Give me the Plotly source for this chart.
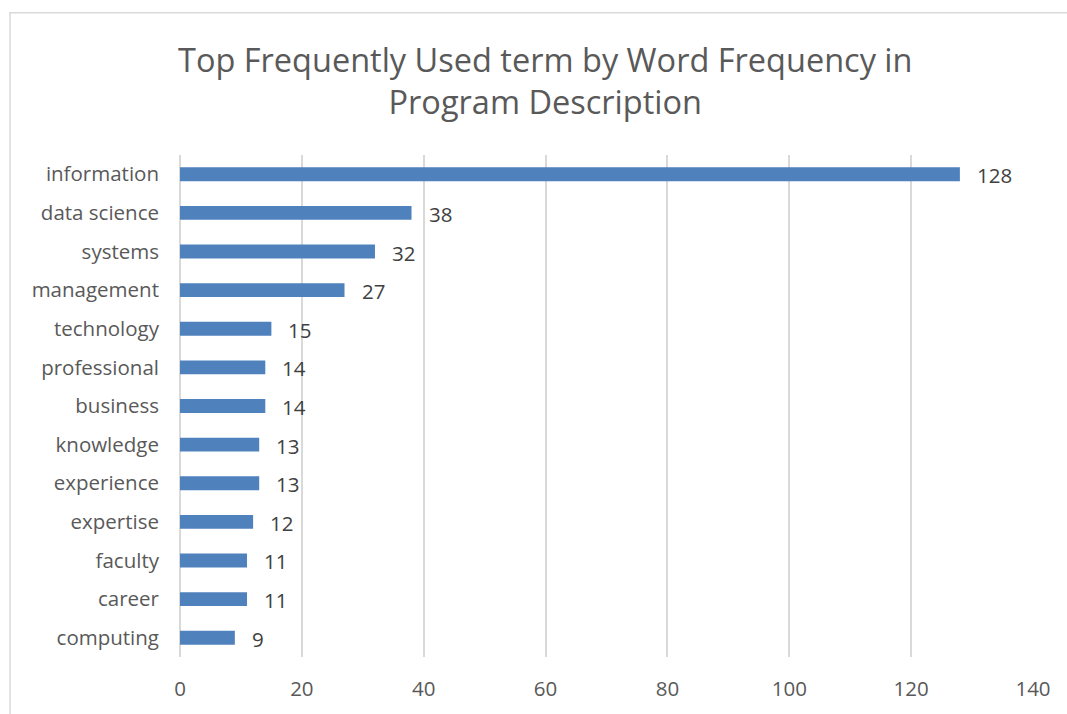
import plotly.graph_objects as go

terms = ["information", "data science", "systems", "management", "technology",
         "professional", "business", "knowledge", "experience", "expertise",
         "faculty", "career", "computing"]
counts = [128, 38, 32, 27, 15, 14, 14, 13, 13, 12, 11, 11, 9]
x_ticks = [0, 20, 40, 60, 80, 100, 120, 140]

title = "Top Frequently Used term by Word Frequency in<br>Program Description"
font_family = "Open Sans, Liberation Sans, sans-serif"

fig = go.Figure()
fig.add_trace(go.Bar(
    x=counts, y=terms, orientation="h",
    marker=dict(color="#4F81BD", line=dict(width=0)),
    hoverinfo="x+y",
))

for t, c in zip(terms, counts):
    fig.add_annotation(x=c, y=t, text=str(c), showarrow=False,
                       xanchor="left", yanchor="middle", xshift=15, yshift=-1,
                       font=dict(size=20.5, color="#404040", family=font_family))

# title as an annotation for precise placement
fig.add_annotation(text=title, xref="paper", yref="paper",
                   x=(545 - 180) / 853, y=1 + (155 - 80) / 505,
                   xanchor="center", yanchor="middle", showarrow=False,
                   font=dict(size=32.5, color="#595959", family=font_family))

fig.update_layout(
    width=1067, height=714,
    margin=dict(l=180, r=34, t=155, b=54),
    paper_bgcolor="white", plot_bgcolor="white",
    bargap=0.64,
    showlegend=False,
    xaxis=dict(range=[0, 140], tickvals=x_ticks, showgrid=True,
               gridcolor="#D9D9D9", gridwidth=1.5, zeroline=True,
               zerolinecolor="#D9D9D9", zerolinewidth=1.5,
               showline=False, ticks="", ticklabelstandoff=17,
               tickfont=dict(size=20.5, color="#595959", family=font_family),
               fixedrange=True),
    yaxis=dict(autorange="reversed", showgrid=False, zeroline=False,
               showline=False, ticks="", ticklabelstandoff=20,
               tickfont=dict(size=20.5, color="#595959", family=font_family),
               fixedrange=True),
)
# chart-area border (Excel style), partially cut off at right and bottom
fig.add_shape(type="rect", xref="paper", yref="paper",
              x0=-170/853, x1=1.2, y0=-0.2, y1=1 + 143/505,
              line=dict(color="#D9D9D9", width=1.5), layer="below")

fig.write_html("out.html")
